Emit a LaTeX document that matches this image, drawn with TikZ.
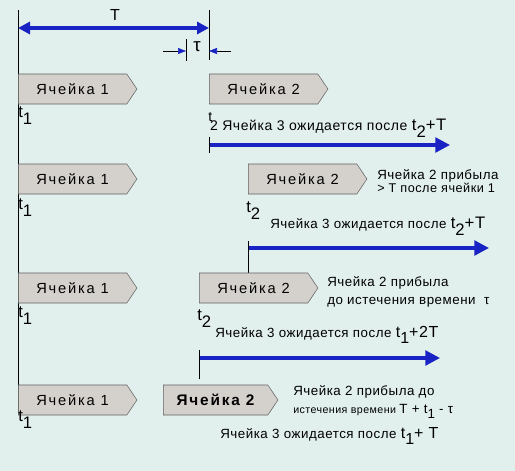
\documentclass[tikz,border=0pt]{standalone}
\usepackage{fontspec}
\setmainfont{Liberation Sans}
\newfontfamily\cellfont[LetterSpace=12]{Liberation Sans}
\newfontfamily\notefont[LetterSpace=4]{Liberation Sans}
\usetikzlibrary{shapes.symbols, arrows.meta, positioning}

\definecolor{bgcol}{RGB}{226,240,237}
\definecolor{cellfill}{RGB}{212,209,205}
\definecolor{cellline}{RGB}{95,95,95}
\definecolor{arrowblue}{RGB}{25,35,195}

\newcommand{\tsub}[1]{t\raisebox{-0.8ex}{#1}}

\begin{document}
\begin{tikzpicture}[
    x=0.75pt, y=-0.75pt,
    cell/.style={signal, signal to=east, signal pointer angle=112, draw=cellline, fill=cellfill, minimum width=89pt, minimum height=22.5pt, inner sep=0pt, font=\cellfont\fontsize{11}{13}\selectfont, anchor=west},
    note/.style={font=\notefont\fontsize{10}{11}\selectfont, inner sep=0pt, align=left},
    tlab/.style={font=\fontsize{12.5}{14}\selectfont, inner sep=0pt, anchor=north west},
    arrow/.style={-{Triangle[length=11pt,width=11pt]}, line width=2.5pt, arrowblue},
    span/.style={{Triangle[length=9pt,width=9pt]}-{Triangle[length=9pt,width=9pt]}, line width=2.3pt, arrowblue},
    small/.style={-{Triangle[length=6pt,width=4.5pt,color=arrowblue]}, thin, black}
]
\fill[bgcol] (0,0) rectangle (515,471);
\useasboundingbox (0,0) rectangle (515,471);

% time axis and period T
\coordinate (axtop) at (18,10);
\coordinate (axbot) at (18,415);
\coordinate (ttop) at (209,10);
\coordinate (tbot) at (209,60);
\coordinate (tautop) at (186,39);
\coordinate (taubot) at (186,61);
\draw (axtop) -- (axbot);
\draw (ttop) -- (tbot);
\draw (tautop) -- (taubot);
\draw[span] (18,28) coordinate (pl) -- (209,28) coordinate (pr);
\node[font=\fontsize{12}{14}\selectfont] (tT) at (115,15) {T};
\coordinate (tauL) at (163,51);
\coordinate (tauR) at (231,51);
\draw[small] (tauL) -- (186,51);
\draw[small] (tauR) -- (209,51);
\node[font=\fontsize{14}{15}\selectfont] (tau) at (197,47) {τ};

% row 1
\node[cell] (c1a) at (18,89) {Ячейка 1};
\node[cell] (c2a) at (209,89) {Ячейка 2};
\node[tlab] (t1a) at (18,106) {\tsub{1}};
\node[note, anchor=base west, font=\notefont\fontsize{10.5}{12}\selectfont] (w3a) at (208,130)
    {\raisebox{1.1ex}{t}\kern-0.15em 2 Ячейка 3 ожидается после \fontsize{12.5}{14}\selectfont\tsub{2}+T};
\coordinate (a1s) at (209,145);
\coordinate (a1e) at (450,145);
\draw[arrow] (a1s) -- (a1e);
\draw ([yshift=-6]a1s) -- ([yshift=6]a1s);

% row 2
\node[cell] (c1b) at (18,179) {Ячейка 1};
\node[cell] (c2b) at (248,179) {Ячейка 2};
\node[note, anchor=west] (n2b) at (377,181) {Ячейка 2 прибыла\\[-1pt]\fontsize{9.5}{10}\selectfont\textgreater{} T после ячейки 1};
\node[tlab] (t1b) at (18,198) {\tsub{1}};
\node[tlab] (t2b) at (246,201) {\tsub{2}};
\node[note, anchor=base west, font=\notefont\fontsize{10}{12}\selectfont] (w3b) at (270,228)
    {Ячейка 3 ожидается после \fontsize{12.5}{14}\selectfont\tsub{2}+T};
\coordinate (a2s) at (248,248);
\coordinate (a2e) at (489,248);
\draw[arrow] (a2s) -- (a2e);
\draw ([yshift=-20]a2s) -- ([yshift=5]a2s);

% row 3
\node[cell] (c1c) at (18,288) {Ячейка 1};
\node[cell] (c2c) at (199,288) {Ячейка 2};
\node[note, anchor=west] (n2c) at (327,292) {Ячейка 2 прибыла\\[3pt]до истечения времени \ τ};
\node[tlab] (t1c) at (18,306) {\tsub{1}};
\node[tlab] (t2c) at (197,309) {\tsub{2}};
\node[note, anchor=base west, font=\notefont\fontsize{10}{12}\selectfont] (w3c) at (215,337)
    {Ячейка 3 ожидается после \fontsize{12}{14}\selectfont\tsub{1}+2T};
\coordinate (a3s) at (199,358);
\coordinate (a3e) at (440,358);
\draw[arrow] (a3s) -- (a3e);
\draw ([yshift=-16]a3s) -- ([yshift=6]a3s);

% row 4
\node[cell] (c1d) at (18,400) {Ячейка 1};
\node[cell, minimum width=86pt, font=\cellfont\bfseries\fontsize{11.5}{13}\selectfont] (c2d) at (163,400) {Ячейка 2};
\node[note, anchor=base west] (n2d) at (293,395) {Ячейка 2 прибыла до};
\node[note, anchor=base west] (n2e) at (293,413) {\fontsize{8}{10}\selectfont истечения времени \fontsize{10}{12}\selectfont T + \tsub{1} - τ};
\node[tlab] (t1d) at (18,410) {\tsub{1}};
\node[note, anchor=base west, font=\notefont\fontsize{10}{12}\selectfont] (w3d) at (220,438)
    {Ячейка 3 ожидается после \fontsize{12}{14}\selectfont\tsub{1}+ T};

\end{tikzpicture}
\end{document}
